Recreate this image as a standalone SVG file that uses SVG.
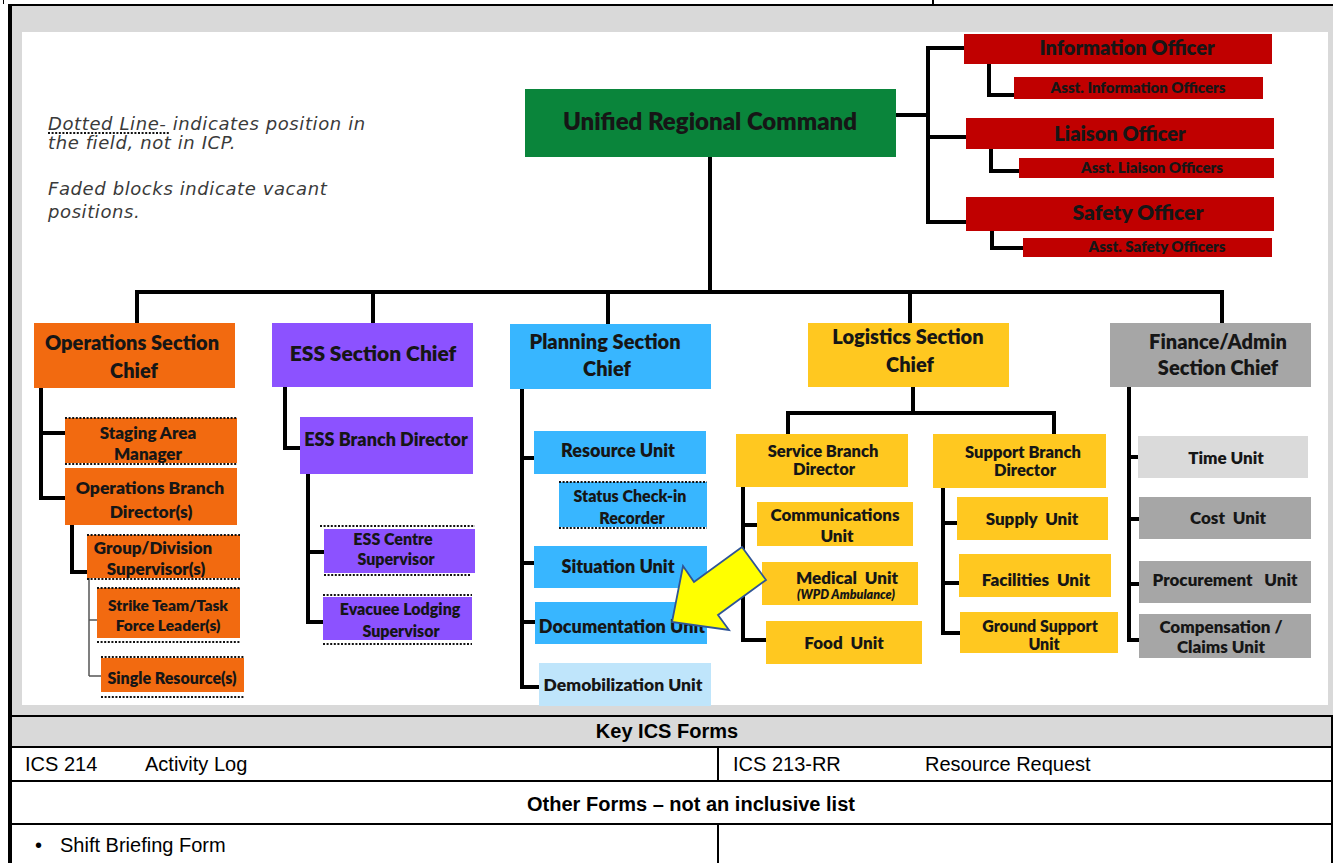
<svg xmlns="http://www.w3.org/2000/svg" width="1333" height="863" viewBox="0 0 1333 863">
  <style>
    .lbl { font-family: Lato, "Liberation Sans", sans-serif; font-weight: 800; fill: #161616; text-anchor: middle; }
    .red { fill: #c00000; }
    .green { fill: #0a853b; }
    .orange { fill: #f26a10; }
    .purple { fill: #8c52ff; }
    .blue { fill: #38b6ff; }
    .lightblue { fill: #bfe5fb; }
    .yellow { fill: #ffc820; }
    .gray { fill: #a6a6a6; }
    .lightgray { fill: #dadada; }
    .wire { fill: none; stroke: #000; stroke-width: 4; stroke-linejoin: miter; stroke-linecap: square; }
    .thin { fill: none; stroke: #555; stroke-width: 1.5; }
    .dots { stroke: #111; stroke-width: 2.2; stroke-dasharray: 2 1.6; fill: none; }
    .legend { font-family: "DejaVu Sans", "Open Sans", sans-serif; font-style: italic; font-size: 18px; letter-spacing: 0.6px; fill: #3a3a3a; }
    .tbl { font-family: "Liberation Sans", Arial, sans-serif; font-size: 20px; fill: #000; }
    .tblb { font-family: "Liberation Sans", Arial, sans-serif; font-size: 20px; font-weight: bold; fill: #000; text-anchor: middle; }
    .rule { fill: #000; }
  </style>

  <!-- page frame and picture panel -->
  <rect x="12" y="6" width="1321" height="709" fill="#d9d9d9"/>
  <rect x="22" y="32" width="1306" height="673" fill="#ffffff"/>
  <rect class="rule" x="8" y="4" width="1325" height="2"/>
  <rect class="rule" x="8" y="4" width="4" height="859"/>
  <rect class="rule" x="3" y="0" width="1" height="4"/>
  <rect class="rule" x="932" y="0" width="2" height="4"/>

  <!-- legend -->
  <g id="legend">
    <text class="legend" x="48" y="130">Dotted Line- indicates position in</text>
    <line class="dots" x1="48" y1="133" x2="170" y2="133" stroke-width="1.5"/>
    <text class="legend" x="48" y="149">the field, not in ICP.</text>
    <text class="legend" x="48" y="195">Faded blocks indicate vacant</text>
    <text class="legend" x="48" y="218">positions.</text>
  </g>

  <!-- connectors -->
  <g id="connectors">
    <!-- command staff -->
    <path class="wire" d="M896 115 H928 M928 48 V222 M928 48 H964 M928 137 H966 M928 222 H966"/>
    <path class="wire" d="M989 64 V95 H1014 M991 149 V171 H1019 M992 231 V248 H1023"/>
    <!-- general staff bus -->
    <path class="wire" d="M710 157 V292 M137 292 H1222 M137 292 V323 M373 292 V323 M608 292 V324 M910 292 V323 M1222 292 V323"/>
    <!-- operations -->
    <path class="wire" d="M41 388 V498 M41 433 H65 M41 498 H65 M72 525 V572 H87"/>
    <path class="thin" d="M89 578 V676 M89 620 H97 M89 676 H101"/>
    <!-- ESS -->
    <path class="wire" d="M285 387 V448 H300 M308 474 V622 M308 552 H324 M308 622 H323"/>
    <!-- planning -->
    <path class="wire" d="M522 389 V687 M522 458 H534 M522 563 H534 M522 622 H535 M522 687 H539"/>
    <!-- logistics -->
    <path class="wire" d="M913 387 V413 M788 413 H1054 M788 413 V434 M1054 413 V434"/>
    <path class="wire" d="M743 487 V640 M743 525 H757 M743 640 H766"/>
    <path class="wire" d="M943 488 V633 M943 523 H957 M943 583 H959 M943 633 H960"/>
    <!-- finance -->
    <path class="wire" d="M1129 387 V640 M1129 457 H1138 M1129 519 H1139 M1129 584 H1139 M1129 640 H1139"/>
  </g>

  <!-- command -->
  <g id="urc">
    <rect class="green" x="525" y="89" width="371" height="68"/>
    <text class="lbl" x="710" y="130" font-size="24">Unified Regional Command</text>
  </g>
  <g id="info-officer">
    <rect class="red" x="964" y="34" width="308" height="30"/>
    <text class="lbl" x="1127" y="55" font-size="20">Information Officer</text>
  </g>
  <g id="asst-info">
    <rect class="red" x="1014" y="77" width="249" height="22"/>
    <text class="lbl" x="1138" y="93" font-size="15">Asst. Information Officers</text>
  </g>
  <g id="liaison-officer">
    <rect class="red" x="966" y="118" width="308" height="31"/>
    <text class="lbl" x="1120" y="141" font-size="20">Liaison Officer</text>
  </g>
  <g id="asst-liaison">
    <rect class="red" x="1019" y="158" width="255" height="20"/>
    <text class="lbl" x="1152" y="173" font-size="15">Asst. Liaison Officers</text>
  </g>
  <g id="safety-officer">
    <rect class="red" x="966" y="197" width="308" height="34"/>
    <text class="lbl" x="1138" y="220" font-size="21">Safety Officer</text>
  </g>
  <g id="asst-safety">
    <rect class="red" x="1023" y="238" width="249" height="19"/>
    <text class="lbl" x="1157" y="252" font-size="15">Asst. Safety Officers</text>
  </g>

  <!-- operations section -->
  <g id="ops-chief">
    <rect class="orange" x="34" y="323" width="201" height="65"/>
    <text class="lbl" x="132" y="350" font-size="20">Operations Section</text>
    <text class="lbl" x="134" y="378" font-size="20">Chief</text>
  </g>
  <g id="staging">
    <rect class="orange" x="65" y="418" width="172" height="45"/>
    <line class="dots" x1="65" y1="418" x2="237" y2="418"/>
    <line class="dots" x1="65" y1="464" x2="237" y2="464"/>
    <text class="lbl" x="148" y="439" font-size="17">Staging Area</text>
    <text class="lbl" x="148" y="460" font-size="17">Manager</text>
  </g>
  <g id="ops-branch">
    <rect class="orange" x="65" y="468" width="172" height="57"/>
    <text class="lbl" x="150" y="494" font-size="17.5">Operations Branch</text>
    <text class="lbl" x="151" y="518" font-size="17.5">Director(s)</text>
  </g>
  <g id="group-division">
    <rect class="orange" x="87" y="535" width="153" height="43"/>
    <line class="dots" x1="87" y1="535" x2="240" y2="535"/>
    <line class="dots" x1="87" y1="579" x2="240" y2="579"/>
    <text class="lbl" x="153" y="554" font-size="17">Group/Division</text>
    <text class="lbl" x="156" y="575" font-size="17">Supervisor(s)</text>
  </g>
  <g id="strike-team">
    <rect class="orange" x="97" y="588" width="143" height="50"/>
    <line class="dots" x1="97" y1="588" x2="240" y2="588"/>
    <line class="dots" x1="97" y1="642" x2="240" y2="642"/>
    <text class="lbl" x="168" y="611" font-size="15.5">Strike Team/Task</text>
    <text class="lbl" x="168" y="631" font-size="15.5">Force Leader(s)</text>
  </g>
  <g id="single-resource">
    <rect class="orange" x="101" y="658" width="143" height="34"/>
    <line class="dots" x1="101" y1="657" x2="244" y2="657"/>
    <line class="dots" x1="101" y1="697" x2="244" y2="697"/>
    <text class="lbl" x="172" y="684" font-size="16">Single Resource(s)</text>
  </g>

  <!-- ESS section -->
  <g id="ess-chief">
    <rect class="purple" x="272" y="323" width="201" height="64"/>
    <text class="lbl" x="373" y="361" font-size="21">ESS Section Chief</text>
  </g>
  <g id="ess-branch">
    <rect class="purple" x="300" y="417" width="173" height="57"/>
    <text class="lbl" x="386" y="446" font-size="18">ESS Branch Director</text>
  </g>
  <g id="ess-centre">
    <rect class="purple" x="324" y="529" width="151" height="44"/>
    <line class="dots" x1="320" y1="526" x2="475" y2="526"/>
    <line class="dots" x1="324" y1="575" x2="470" y2="575"/>
    <text class="lbl" x="393" y="545" font-size="16">ESS Centre</text>
    <text class="lbl" x="396" y="565" font-size="16">Supervisor</text>
  </g>
  <g id="evacuee-lodging">
    <rect class="purple" x="323" y="597" width="149" height="43"/>
    <line class="dots" x1="323" y1="595" x2="472" y2="595"/>
    <line class="dots" x1="323" y1="644" x2="472" y2="644"/>
    <text class="lbl" x="400" y="615" font-size="16">Evacuee Lodging</text>
    <text class="lbl" x="401" y="637" font-size="16">Supervisor</text>
  </g>

  <!-- planning section -->
  <g id="plan-chief">
    <rect class="blue" x="510" y="324" width="201" height="65"/>
    <text class="lbl" x="605" y="349" font-size="20">Planning Section</text>
    <text class="lbl" x="607" y="376" font-size="20">Chief</text>
  </g>
  <g id="resource-unit">
    <rect class="blue" x="534" y="431" width="172" height="43"/>
    <text class="lbl" x="618" y="457" font-size="18">Resource Unit</text>
  </g>
  <g id="status-recorder">
    <rect class="blue" x="559" y="482" width="148" height="45"/>
    <line class="dots" x1="559" y1="482" x2="707" y2="482"/>
    <line class="dots" x1="559" y1="528" x2="707" y2="528"/>
    <text class="lbl" x="630" y="502" font-size="16">Status Check-in</text>
    <text class="lbl" x="632" y="524" font-size="16">Recorder</text>
  </g>
  <g id="situation-unit">
    <rect class="blue" x="534" y="546" width="173" height="42"/>
    <text class="lbl" x="618" y="573" font-size="18">Situation Unit</text>
  </g>
  <g id="documentation-unit">
    <rect class="blue" x="535" y="602" width="172" height="42"/>
    <text class="lbl" x="622" y="633" font-size="18">Documentation Unit</text>
  </g>
  <g id="demob-unit">
    <rect class="lightblue" x="539" y="663" width="172" height="43"/>
    <text class="lbl" x="623" y="691" font-size="17.5">Demobilization Unit</text>
  </g>

  <!-- logistics section -->
  <g id="log-chief">
    <rect class="yellow" x="808" y="323" width="201" height="64"/>
    <text class="lbl" x="908" y="344" font-size="20">Logistics Section</text>
    <text class="lbl" x="910" y="372" font-size="20">Chief</text>
  </g>
  <g id="service-branch">
    <rect class="yellow" x="736" y="434" width="172" height="53"/>
    <text class="lbl" x="823" y="457" font-size="16.5">Service Branch</text>
    <text class="lbl" x="824" y="475" font-size="16.5">Director</text>
  </g>
  <g id="support-branch">
    <rect class="yellow" x="933" y="434" width="173" height="54"/>
    <text class="lbl" x="1023" y="458" font-size="16.5">Support Branch</text>
    <text class="lbl" x="1025" y="476" font-size="16.5">Director</text>
  </g>
  <g id="communications-unit">
    <rect class="yellow" x="757" y="502" width="156" height="44"/>
    <text class="lbl" x="835" y="521" font-size="17">Communications</text>
    <text class="lbl" x="837" y="542" font-size="17">Unit</text>
  </g>
  <g id="medical-unit">
    <rect class="yellow" x="762" y="562" width="156" height="43"/>
    <text class="lbl" x="847" y="584" font-size="17" xml:space="preserve">Medical  Unit</text>
    <text class="lbl" x="846" y="599" font-size="12.5" font-style="italic">(WPD Ambulance)</text>
  </g>
  <g id="food-unit">
    <rect class="yellow" x="766" y="621" width="156" height="43"/>
    <text class="lbl" x="844" y="649" font-size="17" xml:space="preserve">Food  Unit</text>
  </g>
  <g id="supply-unit">
    <rect class="yellow" x="957" y="497" width="151" height="43"/>
    <text class="lbl" x="1032" y="525" font-size="17" xml:space="preserve">Supply  Unit</text>
  </g>
  <g id="facilities-unit">
    <rect class="yellow" x="959" y="554" width="152" height="43"/>
    <text class="lbl" x="1036" y="586" font-size="17" xml:space="preserve">Facilities  Unit</text>
  </g>
  <g id="ground-support-unit">
    <rect class="yellow" x="960" y="612" width="158" height="41"/>
    <text class="lbl" x="1040" y="632" font-size="16">Ground Support</text>
    <text class="lbl" x="1044" y="650" font-size="16">Unit</text>
  </g>

  <!-- finance / admin section -->
  <g id="fin-chief">
    <rect class="gray" x="1110" y="323" width="201" height="64"/>
    <text class="lbl" x="1218" y="349" font-size="20">Finance/Admin</text>
    <text class="lbl" x="1218" y="375" font-size="20">Section Chief</text>
  </g>
  <g id="time-unit">
    <rect class="lightgray" x="1138" y="436" width="170" height="42"/>
    <text class="lbl" x="1226" y="464" font-size="17">Time Unit</text>
  </g>
  <g id="cost-unit">
    <rect class="gray" x="1139" y="497" width="172" height="42"/>
    <text class="lbl" x="1228" y="524" font-size="17" xml:space="preserve">Cost  Unit</text>
  </g>
  <g id="procurement-unit">
    <rect class="gray" x="1139" y="561" width="172" height="42"/>
    <text class="lbl" x="1225" y="586" font-size="17" xml:space="preserve">Procurement   Unit</text>
  </g>
  <g id="compensation-unit">
    <rect class="gray" x="1139" y="614" width="172" height="44"/>
    <text class="lbl" x="1221" y="633" font-size="17">Compensation /</text>
    <text class="lbl" x="1221" y="653" font-size="17">Claims Unit</text>
  </g>

  <!-- highlight arrow -->
  <g id="highlight-arrow">
    <polygon points="742,547 766,580 718,615 729,630 672,622 683,566 694,582" fill="#ffff00" stroke="#2f5597" stroke-width="1.8" stroke-linejoin="miter"/>
  </g>

  <!-- forms table -->
  <g id="forms-table">
    <rect x="12" y="717" width="1321" height="29" fill="#d9d9d9"/>
    <rect class="rule" x="8" y="715" width="1325" height="2"/>
    <rect class="rule" x="8" y="746" width="1325" height="2"/>
    <rect class="rule" x="8" y="780" width="1325" height="2"/>
    <rect class="rule" x="8" y="823" width="1325" height="2"/>
    <rect class="rule" x="717" y="746" width="2" height="36"/>
    <rect class="rule" x="717" y="823" width="2" height="40"/>
    <rect class="rule" x="1331" y="715" width="2" height="148"/>
    <text class="tblb" x="667" y="738">Key ICS Forms</text>
    <text class="tbl" x="25" y="771">ICS 214</text>
    <text class="tbl" x="145" y="771">Activity Log</text>
    <text class="tbl" x="733" y="771">ICS 213-RR</text>
    <text class="tbl" x="925" y="771">Resource Request</text>
    <text class="tblb" x="691" y="811">Other Forms – not an inclusive list</text>
    <text class="tbl" x="35" y="852">•</text>
    <text class="tbl" x="60" y="852">Shift Briefing Form</text>
  </g>
</svg>
